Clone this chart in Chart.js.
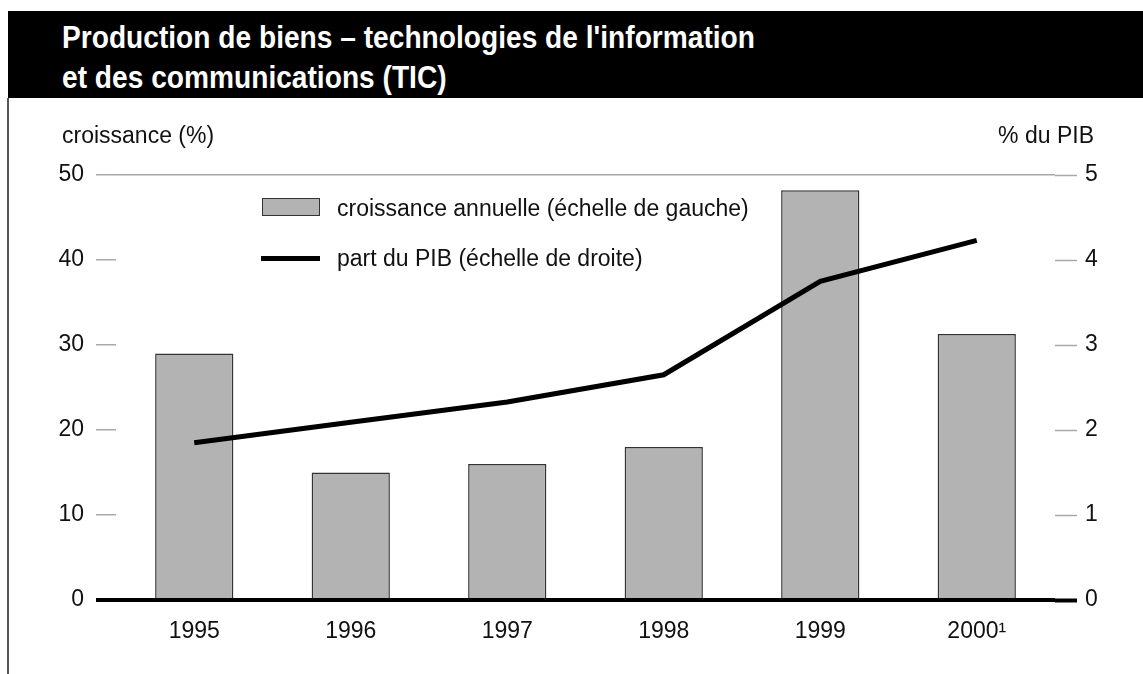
<!DOCTYPE html>
<html lang="fr">
<head>
<meta charset="utf-8">
<title>Production de biens – TIC</title>
<script src="https://cdn.jsdelivr.net/npm/chart.js@4.4.1/dist/chart.umd.min.js"></script>
<style>
  html, body { margin: 0; padding: 0; background: #fff; }
  #page { position: relative; width: 1143px; height: 674px; overflow: hidden; font-family: "Liberation Sans", Arial, sans-serif; color: #111; }
  #band { position: absolute; left: 8px; top: 11px; width: 1135px; height: 87px; background: #000; }
  #title { position: absolute; left: 62px; top: 18px; color: #fff; font-family: "Liberation Sans", Arial, sans-serif; font-weight: bold; font-size: 31px; line-height: 40px; white-space: nowrap; transform-origin: 0 0; }
  #frame { position: absolute; left: 7px; top: 98px; width: 2px; height: 576px; background: #555; }
  #myChart { position: absolute; left: 0; top: 0; }
  .axisTitle { position: absolute; top: 122px; font-size: 23px; white-space: nowrap; }
  #leftTitle { left: 62px; }
  #rightTitle { right: 49px; }
  .legendItem { position: absolute; left: 261px; font-size: 23px; white-space: nowrap; height: 24px; line-height: 24px; }
  .legendItem span { position: absolute; left: 76px; top: 0; }
  #legendBar { top: 196px; }
  #legendBar i { position: absolute; left: 1px; top: 2px; width: 56px; height: 16px; background: #b3b3b3; border: 1.5px solid #333; }
  #legendLine { top: 246px; }
  #legendLine i { position: absolute; left: 0; top: 10px; width: 59px; height: 5px; background: #000; }
</style>
</head>
<body>
<div id="page">
  <div id="band"></div>
  <div id="title"><span id="titleLine1">Production de biens – technologies de l'information</span><br>et des communications (TIC)</div>
  <div id="frame"></div>
  <canvas id="myChart" width="1143" height="674"></canvas>
  <div class="axisTitle" id="leftTitle">croissance (%)</div>
  <div class="axisTitle" id="rightTitle">% du PIB</div>
  <div class="legendItem" id="legendBar"><i></i><span>croissance annuelle (échelle de gauche)</span></div>
  <div class="legendItem" id="legendLine"><i></i><span>part du PIB (échelle de droite)</span></div>
</div>
<script>
'use strict';

//chart data
let years = ['1995', '1996', '1997', '1998', '1999', '2000¹'];
let growthValues = [29, 15, 16, 18, 48.2, 31.3];
let gdpShareValues = [1.85, 2.09, 2.33, 2.65, 3.75, 4.23];
let leftTicks = [0, 10, 20, 30, 40, 50];
let rightTicks = [0, 1, 2, 3, 4, 5];

let tickFont = { family: 'Liberation Sans', size: 23 };

// squeeze the title so it looks condensed like the original
let titleLine1 = document.getElementById('titleLine1');
let squeeze = 693 / titleLine1.getBoundingClientRect().width;
document.getElementById('title').style.transform = 'scaleX(' + squeeze + ')';

// colour of a tick line: black baseline, grey elsewhere
function tickLineColor(ctx) {
  return ctx.tick && ctx.tick.value === 0 ? '#000' : '#a8a8a8';
}
function tickLineWidth(ctx) {
  return ctx.tick && ctx.tick.value === 0 ? 4 : 1.5;
}

let chartObject = {
  type: 'bar',
  data: {
    labels: years,
    datasets: [{
      type: 'line',
      label: 'part du PIB (échelle de droite)',
      data: gdpShareValues,
      yAxisID: 'y2',
      borderColor: '#000',
      borderWidth: 5,
      pointRadius: 0,
      tension: 0,
      order: 0
    },
    {
      label: 'croissance annuelle (échelle de gauche)',
      data: growthValues,
      yAxisID: 'y',
      backgroundColor: '#b3b3b3',
      borderColor: '#333',
      borderWidth: 1.5,
      barPercentage: 0.5,
      categoryPercentage: 1,
      order: 1
    }]
  },
  options: {
    responsive: false,
    animation: false,
    devicePixelRatio: 1,
    layout: { padding: { top: 175, left: 0, right: 0, bottom: 0 } },
    plugins: { legend: { display: false }, tooltip: { enabled: false } },
    scales: {
      x: {
        grid: { display: false },
        border: { display: false },
        ticks: { color: '#111', font: tickFont, padding: 10, maxRotation: 0 },
        afterFit: function (scale) { scale.height = 74; }
      },
      y: {
        position: 'left',
        min: 0,
        max: 50,
        afterBuildTicks: function (scale) { scale.ticks = leftTicks.map(v => ({ value: v })); },
        grid: {
          color: function (ctx) {
            if (!ctx.tick) return 'transparent';
            if (ctx.tick.value === 0) return '#000';
            return ctx.tick.value === 50 ? '#a8a8a8' : 'transparent';
          },
          lineWidth: tickLineWidth,
          tickColor: tickLineColor,
          tickWidth: tickLineWidth,
          tickLength: 20
        },
        border: { display: false },
        ticks: { color: '#111', font: tickFont, padding: 12 },
        afterFit: function (scale) { scale.width = 116; }
      },
      y2: {
        position: 'right',
        min: 0,
        max: 5,
        afterBuildTicks: function (scale) { scale.ticks = rightTicks.map(v => ({ value: v })); },
        grid: {
          drawOnChartArea: false,
          tickColor: tickLineColor,
          tickWidth: tickLineWidth,
          tickLength: 22
        },
        border: { display: false },
        ticks: { color: '#111', font: tickFont, padding: 8 },
        afterFit: function (scale) { scale.width = 88; }
      }
    }
  }
};

let ctx = document.getElementById('myChart').getContext('2d');
let myChart = new Chart(ctx, chartObject);
</script>
</body>
</html>
